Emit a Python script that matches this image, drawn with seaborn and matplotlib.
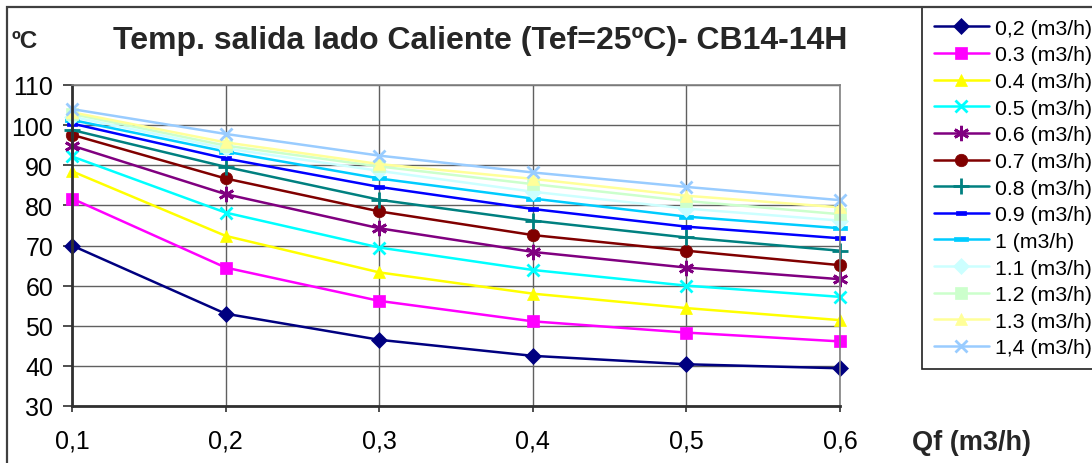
import numpy as np
import pandas as pd
import matplotlib
matplotlib.use("Agg")
import matplotlib.pyplot as plt
import seaborn as sns
from matplotlib.patches import Rectangle

# ---- data ----
qf = [0.1, 0.2, 0.3, 0.4, 0.5, 0.6]
xtick_labels = ["0,1", "0,2", "0,3", "0,4", "0,5", "0,6"]
yticks = [30, 40, 50, 60, 70, 80, 90, 100, 110]

series_labels = ["0,2 (m3/h)", "0.3 (m3/h)", "0.4 (m3/h)", "0.5 (m3/h)", "0.6 (m3/h)",
                 "0.7 (m3/h)", "0.8 (m3/h)", "0.9 (m3/h)", "1 (m3/h)", "1.1 (m3/h)",
                 "1.2 (m3/h)", "1.3 (m3/h)", "1,4 (m3/h)"]
t_02 = [70.0, 53.0, 46.5, 42.5, 40.4, 39.4]
t_03 = [81.7, 64.5, 56.2, 51.1, 48.3, 46.1]
t_04 = [88.5, 72.4, 63.3, 58.0, 54.4, 51.4]
t_05 = [92.2, 78.2, 69.5, 63.9, 60.0, 57.2]
t_06 = [94.9, 82.8, 74.3, 68.4, 64.5, 61.6]
t_07 = [97.6, 86.7, 78.5, 72.6, 68.7, 65.1]
t_08 = [98.8, 89.6, 81.4, 76.2, 72.0, 68.7]
t_09 = [100.4, 91.7, 84.6, 79.1, 74.7, 71.8]
t_10 = [101.3, 93.4, 86.7, 81.7, 77.2, 74.3]
t_11 = [102.1, 94.2, 88.6, 83.4, 79.2, 76.2]
t_12 = [102.8, 94.9, 89.7, 85.3, 81.1, 77.8]
t_13 = [103.2, 95.7, 90.3, 86.6, 82.4, 79.5]
t_14 = [104.0, 97.8, 92.4, 88.2, 84.6, 81.3]
values = [t_02, t_03, t_04, t_05, t_06, t_07, t_08, t_09, t_10, t_11, t_12, t_13, t_14]

# ---- styles ----
short_dash = [(-1, -0.35), (1, -0.35), (1, 0.35), (-1, 0.35), (-1, -0.35)]
long_dash = [(-1, -0.22), (1, -0.22), (1, 0.22), (-1, 0.22), (-1, -0.22)]
colors = ["#000080", "#FF00FF", "#FFFF00", "#00FFFF", "#800080", "#800000", "#008080",
          "#0000FF", "#00CCFF", "#CCFFFF", "#CCFFCC", "#FFFF99", "#99CCFF"]
markers = ["D", "s", "^", "x", (6, 2, 0), "o", "+", short_dash, long_dash,
           "D", "s", "^", "x"]
msizes = [8, 8, 9, 9, 11, 9, 12, 7, 10, 8, 8, 9, 9]

sns.set_style("white")
plt.rcParams["font.family"] = ["Liberation Sans", "DejaVu Sans"]

W, H = 1092, 464
fig = plt.figure(figsize=(W / 100, H / 100), dpi=100)
ax = fig.add_axes([72 / W, 1 - 407 / H, (840 - 72) / W, (407 - 86) / H])

for lab, vals, c, m, ms in zip(series_labels, values, colors, markers, msizes):
    line_art = m in ("x", "+") or isinstance(m, tuple)
    sns.lineplot(x=qf, y=vals, ax=ax, color=c, marker=m, markersize=ms,
                 markerfacecolor=c, markeredgecolor=c,
                 markeredgewidth=2.0 if line_art else 0.5,
                 linewidth=1.8, label=lab, clip_on=False)

ax.set_xlim(0.1, 0.6)
ax.set_ylim(30, 110)
ax.set_xticks(qf)
ax.set_xticklabels(xtick_labels)
ax.set_yticks(yticks)
ax.set_yticklabels([str(v) for v in yticks])
ax.grid(True, color="#606060", linewidth=1.0)
ax.set_axisbelow(True)
for s in ["left", "bottom"]:
    ax.spines[s].set_color("#303030")
    ax.spines[s].set_linewidth(2.0)
for s in ["top", "right"]:
    ax.spines[s].set_color("#808080")
    ax.spines[s].set_linewidth(1.2)
ax.tick_params(axis="y", direction="out", length=6.5, width=1.2, color="#303030",
               pad=7, labelsize=18, labelcolor="black", left=True)
ax.tick_params(axis="x", direction="out", length=4.5, width=1.2, color="#303030",
               pad=12, labelsize=18, labelcolor="black", bottom=True)
ax.set_xlabel("")
ax.set_ylabel("")

fig.text(480 / W, 1 - 48.5 / H, "Temp. salida lado Caliente (Tef=25ºC)- CB14-14H",
         ha="center", va="baseline", fontsize=23, fontweight="bold")
fig.text(11 / W, 1 - 48.5 / H, "ºC", ha="left", va="baseline",
         fontsize=17.5, fontweight="bold")
fig.text(912 / W, 1 - 450 / H, "Qf (m3/h)", ha="left", va="baseline",
         fontsize=19.5, fontweight="bold")

leg = ax.legend(loc="upper left", bbox_to_anchor=(922 / W, 1 - 8 / H),
                bbox_transform=fig.transFigure, borderaxespad=0, fontsize=15.3,
                frameon=True, fancybox=False, framealpha=1, edgecolor="#202020",
                handlelength=2.6, handletextpad=0.3, labelspacing=0.36,
                borderpad=0.55, markerscale=1.0)
leg.get_frame().set_linewidth(1.2)
for t in leg.get_texts():
    t.set_color("black")

fig.add_artist(Rectangle((7 / W, -0.1), 1.2, 1.1 - 8 / H, transform=fig.transFigure,
                         fill=False, edgecolor="#404040", linewidth=1.6))

fig.savefig("out.png", dpi=100)
